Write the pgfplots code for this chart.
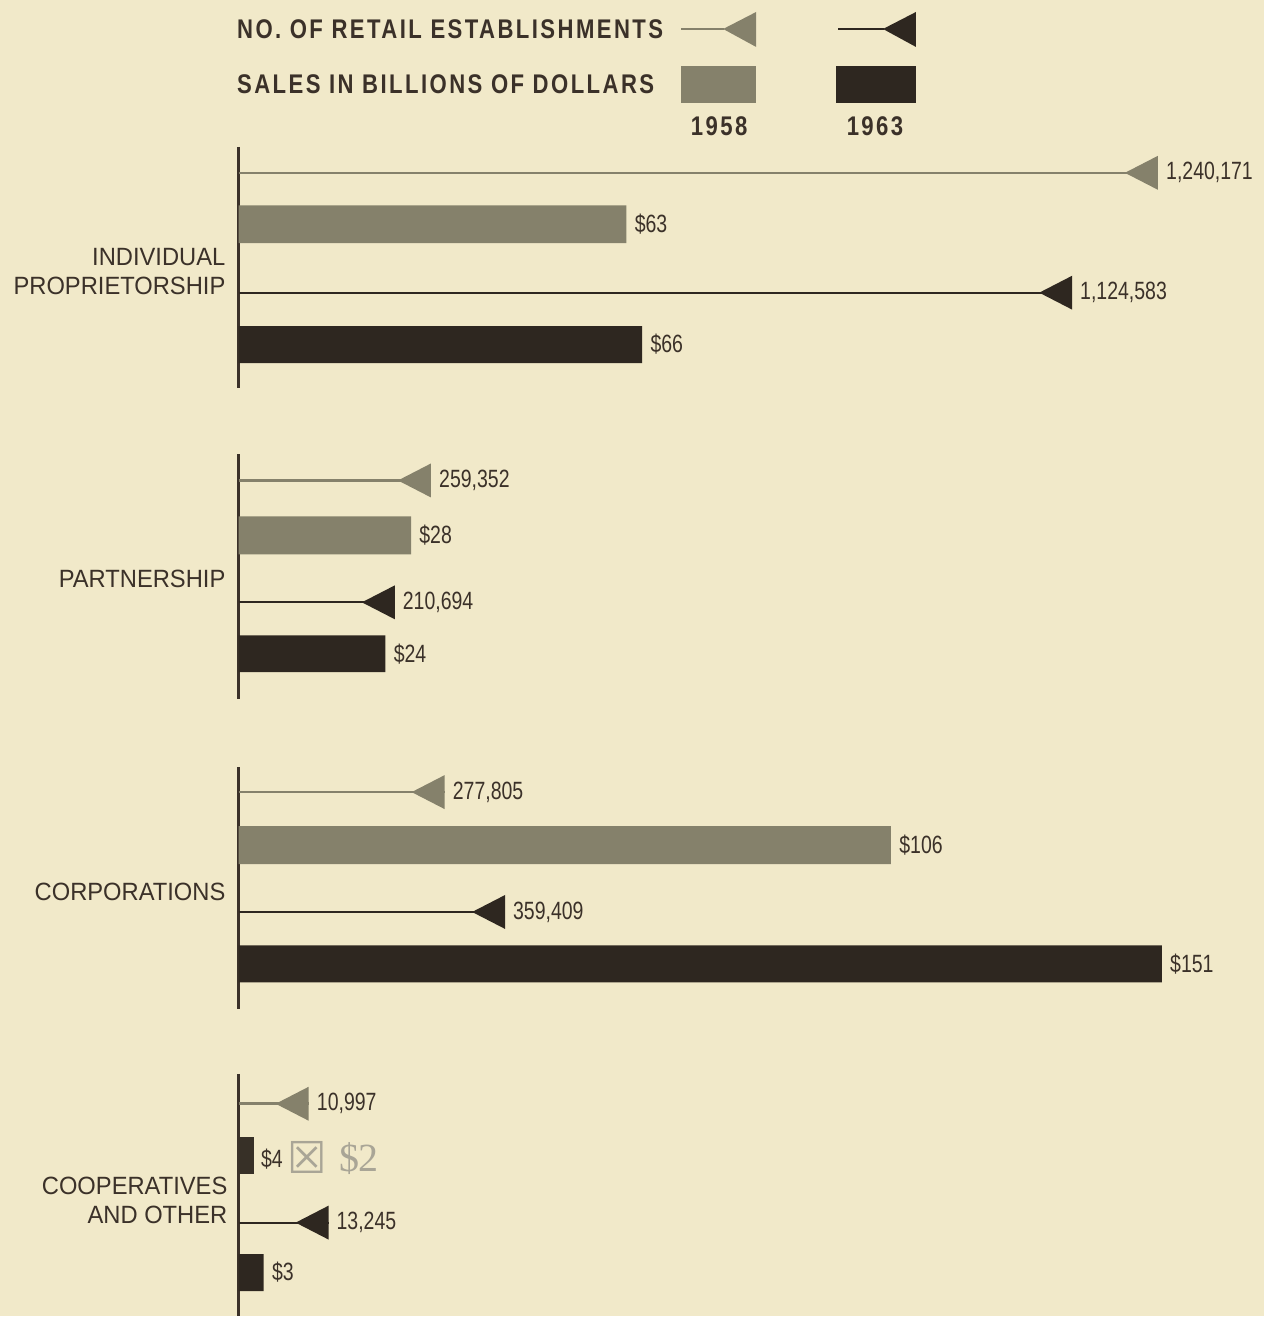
\documentclass[border=0pt]{standalone}
\usepackage{pgfplots}
\pgfplotsset{compat=1.18}
\usepackage{pgfplotstable}
\usepackage{fontspec}
\setmainfont{Liberation Sans}
\newfontfamily\catfont[FakeStretch=0.95]{Liberation Sans}
\newfontfamily\numfont[FakeStretch=0.78]{Liberation Sans}
\newfontfamily\headfont[FakeStretch=0.82,LetterSpace=9]{Liberation Sans}
\newfontfamily\symfont{DejaVu Sans}
\newfontfamily\stampfont{Liberation Serif}

\definecolor{bg}{HTML}{F1E9C9}
\definecolor{gr}{HTML}{85816B}
\definecolor{dk}{HTML}{2E2720}
\definecolor{tx}{HTML}{3B3129}
\definecolor{stamp}{HTML}{A9A596}

\pgfdeclareplotmark{ltri}{%
  \pgfpathmoveto{\pgfqpoint{0pt}{8.5pt}}%
  \pgfpathlineto{\pgfqpoint{-16.5pt}{0pt}}%
  \pgfpathlineto{\pgfqpoint{0pt}{-8.5pt}}%
  \pgfpathclose\pgfusepathqfill}

% establishments (thousands), 1958 and 1963
\pgfplotstableread{
y estk lab
173 1240.171 1,240,171
481 259.352 259,352
793 277.805 277,805
1105 10.997 10,997
}\estA
\pgfplotstableread{
y estk lab
293 1124.583 1,124,583
603 210.694 210,694
913 359.409 359,409
1224 13.245 13,245
}\estB
% sales in billions of dollars, 1958 and 1963
\pgfplotstableread{
y s
224.5 63
536 28
846 106
}\salesA
\pgfplotstableread{
y s
1156.5 2
}\salesAcoop
\pgfplotstableread{
y s
345 66
654.5 24
965 151
1274 3
}\salesB

\begin{document}
\begin{tikzpicture}
\begin{axis}[
  width=632.5pt, height=658.5pt, scale only axis,
  xmin=-239, xmax=1026, ymin=0, ymax=1317, y dir=reverse,
  axis line style={draw=none}, ticks=none,
  axis background/.style={fill=bg},
  clip=false,
  every node near coord/.style={anchor=west, inner sep=0pt,
     font=\numfont\fontsize{12.5}{14}\selectfont, text=tx},
]
% group axis segments
\draw[tx, line width=1.5pt] (axis cs:0,147) -- (axis cs:0,388);
\draw[tx, line width=1.5pt] (axis cs:0,455) -- (axis cs:0,700);
\draw[tx, line width=1.5pt] (axis cs:0,768) -- (axis cs:0,1010);
\draw[tx, line width=1.5pt] (axis cs:0,1075) -- (axis cs:0,1317);

% sales bars
\addplot[xbar, bar width=38, bar shift=0pt, fill=gr, draw=none,
  point meta=explicit symbolic,
  nodes near coords={\$\pgfplotspointmeta},
  nodes near coords style={anchor=west, xshift=4pt}]
  table[x expr=\thisrow{s}*6.16, y=y, meta=s] {\salesA};
\addplot[xbar, bar width=37, bar shift=0pt, fill=dk!90!gr, draw=none]
  table[x expr=\thisrow{s}*7.5, y=y] {\salesAcoop};
\addplot[xbar, bar width=37, bar shift=0pt, fill=dk, draw=none,
  point meta=explicit symbolic,
  nodes near coords={\$\pgfplotspointmeta},
  nodes near coords style={anchor=west, xshift=4pt}]
  table[x expr={max(\thisrow{s}*6.12,25)}, y=y, meta=s] {\salesB};

% establishments lines with triangle markers
\addplot[xcomb, gr, line width=1.3pt, mark=ltri, mark options={fill=gr},
  point meta=explicit symbolic, nodes near coords,
  nodes near coords style={anchor=west, xshift=3.5pt}]
  table[x expr={max(\thisrow{estk}*0.742,70)}, y=y, meta=lab] {\estA};
\addplot[xcomb, dk, line width=1pt, mark=ltri, mark options={fill=dk},
  point meta=explicit symbolic, nodes near coords,
  nodes near coords style={anchor=west, xshift=3.5pt}]
  table[x expr={max(\thisrow{estk}*0.742,90)}, y=y, meta=lab] {\estB};

% corrected label of the cooperatives 1958 bar
\node[anchor=west, inner sep=0pt, text=tx, font=\numfont\fontsize{12.5}{14}\selectfont] at (axis cs:22,1160) {\$4};
\node[anchor=west, inner sep=0pt, text=stamp, font=\symfont\fontsize{22}{24}\selectfont] at (axis cs:48,1159) {☒};
\node[anchor=west, inner sep=0pt, text=stamp, font=\stampfont\fontsize{20}{22}\selectfont] at (axis cs:100,1160) {\$2};

% category labels
\node[anchor=east, align=right, inner sep=0pt, text=tx, font=\catfont\fontsize{12.5}{14.5}\selectfont] at (axis cs:-13,271.5) {INDIVIDUAL\\PROPRIETORSHIP};
\node[anchor=east, inner sep=0pt, text=tx, font=\catfont\fontsize{12.5}{14.5}\selectfont] at (axis cs:-13,580) {PARTNERSHIP};
\node[anchor=east, inner sep=0pt, text=tx, font=\catfont\fontsize{12.5}{14.5}\selectfont] at (axis cs:-13,893) {CORPORATIONS};
\node[anchor=east, align=right, inner sep=0pt, text=tx, font=\catfont\fontsize{12.5}{14.5}\selectfont] at (axis cs:-11,1201.5) {COOPERATIVES\\AND OTHER};

% legend
\node[anchor=west, inner sep=0pt, text=tx, font=\headfont\bfseries\fontsize{13.5}{15}\selectfont] at (axis cs:-2,29) {NO. OF RETAIL ESTABLISHMENTS};
\node[anchor=west, inner sep=0pt, text=tx, font=\headfont\bfseries\fontsize{13.5}{15}\selectfont] at (axis cs:-2,84) {SALES IN BILLIONS OF DOLLARS};
\draw[gr, line width=1.3pt] (axis cs:443,29) -- (axis cs:486,29);
\fill[gr] (axis cs:518,12) -- (axis cs:485,29) -- (axis cs:518,47) -- cycle;
\draw[dk, line width=1.2pt] (axis cs:600,29) -- (axis cs:646,29);
\fill[dk] (axis cs:678,12) -- (axis cs:645,29) -- (axis cs:678,47) -- cycle;
\fill[gr] (axis cs:443,66) rectangle (axis cs:518,103);
\fill[dk] (axis cs:598,66) rectangle (axis cs:678,103);
\node[text=tx, inner sep=0pt, font=\headfont\bfseries\fontsize{13.5}{15}\selectfont] at (axis cs:481,126) {1958};
\node[text=tx, inner sep=0pt, font=\headfont\bfseries\fontsize{13.5}{15}\selectfont] at (axis cs:637,126) {1963};
\end{axis}
\end{tikzpicture}
\end{document}
